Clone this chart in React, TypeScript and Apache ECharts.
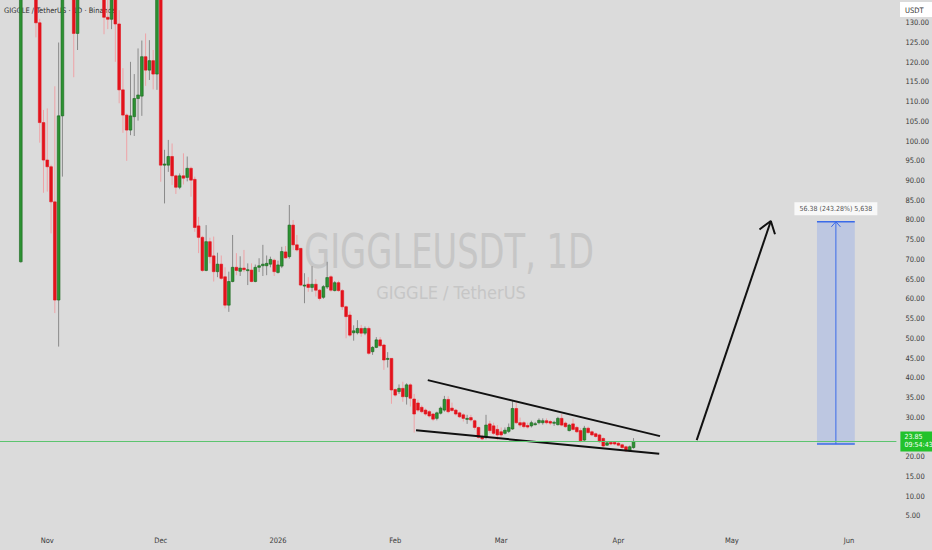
import { useEffect, useRef } from 'react';
import * as echarts from 'echarts';

// daily category axis: 2025-10-20 .. 2026-06-12
const startDay = Date.UTC(2025, 9, 20);
const dayCount = 237;
const categories = Array.from({ length: dayCount }, (_, i) =>
  new Date(startDay + i * 86400000).toISOString().slice(0, 10)
);

const monthTicks: [string, string][] = [
  ['2025-11-01', 'Nov'],
  ['2025-12-01', 'Dec'],
  ['2026-01-01', '2026'],
  ['2026-02-01', 'Feb'],
  ['2026-03-01', 'Mar'],
  ['2026-04-01', 'Apr'],
  ['2026-05-01', 'May'],
  ['2026-06-01', 'Jun'],
];

// first candle sits on day index 5 (2025-10-25); rows are [open, close, low, high]
const firstCandle = 5;
const ohlc: number[][] = [
  [69.4, 150, 69.2, 158], [150, 170, 142, 180], [170, 160, 145, 185], [160, 145, 138, 168], [145, 130, 126.3, 148],
  [130, 104.7, 99.6, 131], [104.7, 95.2, 86.9, 107.9], [95.2, 93.5, 87.2, 108.3], [93.5, 84.6, 76.6, 94], [84.6, 59.7, 56.4, 113.9],
  [59.7, 106.4, 47.9, 125], [106.4, 150, 91, 165], [150, 160, 140, 175], [160, 145, 138, 170], [145, 127.3, 116.2, 150],
  [127.3, 150, 123.1, 160], [150, 165, 140, 172], [165, 175, 155, 185], [175, 160, 150, 180], [160, 170, 148, 178],
  [170, 155, 145, 175], [155, 142, 138, 160], [142, 131.4, 127.1, 146], [131.4, 130.9, 128.4, 138], [130.9, 142, 128.4, 148],
  [142, 129.7, 120.1, 145], [129.7, 113, 109.6, 133.2], [113, 106.6, 102.1, 118.5], [106.6, 102.8, 95, 107], [102.8, 106.4, 101.5, 120.1],
  [106.2, 110.8, 101.3, 117], [110.8, 111.7, 105.2, 123.5], [111.4, 121.4, 106.4, 125.5], [121.4, 118, 114, 127.3], [118, 120.4, 115.5, 125.6],
  [120.4, 117, 113.1, 123.1], [117, 142, 113, 150], [142, 93.9, 89.7, 146], [93.9, 94.2, 84.2, 97.8], [93.9, 96.1, 92.2, 100.3],
  [96.1, 91.2, 88.9, 99.4], [91.2, 88.3, 86.6, 91.5], [88.3, 91.2, 87.8, 91.8], [91.2, 90.6, 89, 96.9], [90.8, 93.1, 89.8, 96.1],
  [93.1, 90.1, 85.9, 93.5], [90.3, 78.1, 77, 91], [78.5, 75.6, 71.6, 80.8], [75.6, 67.2, 66.8, 76], [67.2, 74.5, 67, 78.7],
  [74.5, 70.7, 69, 75.5], [70.9, 66.9, 64.4, 75.8], [66.9, 68.8, 65.5, 71.7], [68.8, 65.2, 64.8, 71], [65.6, 58.4, 57.6, 68],
  [58.4, 64.4, 56.7, 66.9], [64.4, 68, 64.2, 76.2], [68, 67.2, 66, 71.6], [67, 67.8, 65.8, 70.8], [67.8, 67.4, 66.8, 72.4],
  [67.3, 67.4, 63.5, 69], [67.3, 64.4, 64.2, 69], [64.4, 68, 64.2, 68.7], [68, 68.4, 66.8, 70.3], [68.4, 68.8, 65.8, 73.7],
  [68.4, 69, 66, 71], [68.8, 70, 68, 70.7], [69.8, 66.9, 65.8, 70.2], [66.7, 68.6, 66.4, 69.7], [68.3, 72, 67.8, 73.2],
  [71.9, 70.4, 70.2, 73.4], [70.7, 78.7, 70.2, 83.8], [78.7, 73.7, 72.4, 80], [73.7, 72.4, 72, 76.2], [72.8, 63.5, 63.2, 72.9],
  [63.4, 63.5, 58.9, 66.5], [63.7, 62.9, 61.8, 65.5], [62.9, 63.7, 61.8, 68.3], [63.7, 62.2, 60.6, 65], [62.2, 60.1, 59.6, 62.5],
  [60.4, 63.1, 60, 63.5], [63, 65.4, 62.5, 69.4], [65.6, 62.2, 61.8, 66], [62.1, 64.1, 61.9, 64.5], [64.1, 62.1, 61.8, 64.6],
  [62.1, 58, 57.2, 62.5], [58, 55.5, 50, 58.3], [55.9, 50.8, 50.4, 56.8], [51.4, 51.9, 49.4, 53.3], [51.4, 52.5, 51, 54.6],
  [52.5, 51.3, 50.4, 53.4], [51.3, 52.5, 50.8, 53], [52.5, 46.2, 45.8, 53], [46.6, 47.7, 45.8, 48], [47.7, 49.6, 47.5, 50.3],
  [49.6, 48.1, 47.9, 50.3], [48.3, 44.5, 42, 48.6], [44.8, 44.9, 42.6, 46.5], [44.9, 36.9, 33.4, 45], [37, 35.6, 35.2, 37.3],
  [36.5, 37.3, 35.9, 38.3], [37.3, 35.2, 33.9, 39], [35.2, 38.2, 33.2, 38.6], [38.2, 34.8, 32.7, 38.6], [34.6, 30.8, 26.1, 35.9],
  [33.6, 31.8, 31.3, 34.4], [32.5, 31.4, 31, 33], [31.8, 30.8, 30.4, 32.2], [31.4, 30.3, 29.9, 31.8], [30.8, 29.5, 29, 31],
  [29.7, 31.1, 29.2, 31.4], [31, 32.3, 30.7, 32.7], [31.8, 34.5, 31.4, 35.4], [34.5, 31.4, 31, 35.3], [32.3, 31.7, 31.3, 33.7],
  [31.8, 30.8, 30.4, 32.1], [31.1, 30.1, 29.8, 31.4], [30.6, 29.7, 28.9, 31], [29.6, 29.7, 28.3, 30.6], [29.9, 29.3, 28.9, 30.6],
  [29.1, 27.4, 26.8, 29.4], [27.4, 24.9, 24.6, 27.6], [25, 24.5, 24.2, 25.6], [24.9, 28, 24.4, 30.6], [28.3, 26.6, 26, 29.1],
  [27.8, 25.9, 25.5, 28.6], [26.9, 25.5, 24.2, 28], [26.3, 25.5, 25, 27.4], [25.9, 26.7, 25.6, 27.4], [26.4, 27.4, 26, 28.4],
  [27, 32.2, 26.8, 34.1], [32.2, 28.6, 28.3, 33.7], [28.6, 28, 27.4, 29.9], [28.6, 27.6, 27.2, 29], [27.9, 27.5, 27.1, 28.6],
  [27.8, 28.6, 27.4, 29.1], [28.3, 28.35, 27.9, 28.8], [28.6, 29.2, 28.2, 29.7], [28.6, 29.1, 28.1, 29.7], [29.1, 28.6, 28.2, 29.7],
  [28.9, 28.5, 28, 29.3], [28.5, 28.7, 27.8, 29.1], [28.1, 29.7, 27.9, 30.1], [29.7, 28, 27.7, 30.8], [28.5, 27.6, 27.3, 28.9],
  [26.6, 28, 26.4, 28.3], [28.3, 26.9, 26.6, 29.6], [27.4, 26.3, 26, 27.8], [26.6, 24, 23.6, 27.2], [24.2, 27.2, 23.9, 27.8],
  [27.2, 26.1, 25.8, 27.6], [26.3, 25.5, 25.2, 26.6], [25.8, 25.1, 24.8, 26.1], [25.5, 23.8, 23.5, 25.8], [24.6, 22.7, 22.4, 24.9],
  [22.9, 23.5, 22.7, 23.8], [23.6, 23.2, 22.9, 23.9], [23.6, 23.2, 22.9, 23.9], [23.4, 22.9, 22.6, 23.7], [23, 22.3, 22, 23.3],
  [22.5, 21.5, 21.2, 22.8], [21.5, 22.5, 21.3, 22.8], [22.3, 23.85, 22, 24.7],
];

const lastPrice = 23.85;
const countdown = '09:54:43';

// drawings, [day index, price]
const wedgeUpper = [[112.6, 39.4], [174.0, 25.2]];
const wedgeLower = [[109.5, 26.7], [173.8, 20.7]];
const arrowShaft = [[183.7, 24.2], [203.3, 79.75]];
const arrowHead = [[200.3, 77.6], [203.3, 79.75], [204.4, 76.4]];

const projFrom = 23.18;
const projTo = 79.56;
const projLeft = 215.5;
const projRight = 225.5;
const projMid = 220.5;
const projLabel = '56.38 (243.28%) 5,638';

const narrow = '"Liberation Sans Narrow", "DejaVu Sans Condensed", sans-serif';

function renderCandle(_params: any, api: any) {
  const i = api.value(0);
  const o = api.value(1);
  const c = api.value(2);
  const lo = api.value(3);
  const hi = api.value(4);
  const [x, yO] = api.coord([i, o]);
  const yC = api.coord([i, c])[1];
  const yL = api.coord([i, lo])[1];
  const yH = api.coord([i, hi])[1];
  const w = api.size([1, 0])[0] * 0.72;
  const up = c >= o;
  const top = Math.min(yO, yC);
  const h = Math.max(Math.abs(yO - yC), 1);
  return {
    type: 'group',
    children: [
      {
        type: 'line',
        shape: { x1: x, y1: yH, x2: x, y2: yL },
        style: { stroke: up ? '#8a8a8a' : '#efa2a6', lineWidth: 1 },
      },
      {
        type: 'rect',
        shape: { x: x - w / 2, y: top, width: w, height: h },
        style: {
          fill: up ? '#2c9232' : '#e3131c',
          stroke: up ? '#1a651d' : '#e3131c',
          lineWidth: 0.6,
        },
      },
    ],
  };
}

function segment(data: number[][], color: string, width: number) {
  return {
    type: 'line',
    xAxisIndex: 1,
    data,
    symbol: 'none',
    silent: true,
    z: 4,
    lineStyle: { color, width },
  };
}

export default function App() {
  const chartRef = useRef<HTMLDivElement>(null);

  useEffect(() => {
    if (!chartRef.current) return;
    const chart = echarts.init(chartRef.current, undefined, { renderer: 'svg' });

    const tickMap = new Map(monthTicks);
    const candleData = ohlc.map((d, i) => [firstCandle + i, ...d]);

    const option: any = {
      animation: false,
      backgroundColor: '#dbdbdb',
      grid: { left: 0, right: 35, top: 3.08, bottom: 14.5 },
      xAxis: [
        {
          type: 'category',
          data: categories,
          boundaryGap: true,
          axisLine: { show: false },
          axisTick: { show: false },
          splitLine: { show: false },
          axisLabel: {
            interval: (_i: number, v: string) => tickMap.has(v),
            formatter: (v: string) => tickMap.get(v) || '',
            color: '#3a3a3a',
            fontSize: 7.5,
            fontFamily: narrow,
            margin: 1,
          },
        },
        { type: 'value', min: -0.5, max: dayCount - 0.5, show: false },
      ],
      yAxis: {
        type: 'value',
        position: 'right',
        min: 0,
        max: 135,
        interval: 5,
        axisLine: { show: false },
        axisTick: { show: false },
        splitLine: { show: false },
        axisLabel: {
          formatter: (v: number) => (v === 0 || v === 135 ? '' : v.toFixed(2)),
          color: '#3a3a3a',
          fontSize: 7.5,
          fontFamily: narrow,
          margin: 9,
          align: 'left',
        },
      },
      graphic: [
        {
          type: 'text',
          x: 449,
          y: 251,
          scaleY: 1.26,
          z: 0,
          silent: true,
          style: {
            text: 'GIGGLEUSDT, 1D',
            fill: '#c6c6c6',
            fontSize: 37.5,
            fontFamily: narrow,
            textAlign: 'center',
            textVerticalAlign: 'middle',
          },
        },
        {
          type: 'text',
          x: 451,
          y: 292,
          z: 0,
          silent: true,
          style: {
            text: 'GIGGLE / TetherUS',
            fill: '#c6c6c6',
            fontSize: 18,
            fontFamily: narrow,
            textAlign: 'center',
            textVerticalAlign: 'middle',
          },
        },
        {
          type: 'text',
          x: 4,
          y: 10,
          z: 0,
          silent: true,
          style: {
            text: 'GIGGLE / TetherUS · 1D · Binance',
            fill: '#2e2e2e',
            fontSize: 7.5,
            fontFamily: narrow,
            textVerticalAlign: 'middle',
          },
        },
        {
          type: 'rect',
          x: 900,
          y: 2,
          z: 100,
          shape: { width: 32, height: 15 },
          style: { fill: '#ffffff' },
        },
        {
          type: 'text',
          x: 905,
          y: 10,
          z: 101,
          style: {
            text: 'USDT',
            fill: '#333',
            fontSize: 7.5,
            fontFamily: narrow,
            textVerticalAlign: 'middle',
          },
        },
      ],
      series: [
        {
          type: 'custom',
          name: 'GIGGLEUSDT',
          renderItem: renderCandle,
          data: candleData,
          encode: { x: 0, y: [1, 2, 3, 4] },
          clip: false,
          z: 2,
        },
        {
          type: 'line',
          xAxisIndex: 1,
          data: [],
          symbol: 'none',
          silent: true,
          z: 3,
          markLine: {
            silent: true,
            symbol: ['none', 'none'],
            lineStyle: { color: '#5cc46f', width: 1, type: 'solid' },
            label: {
              show: true,
              position: 'end',
              distance: 4,
              formatter: `${lastPrice.toFixed(2)}\n${countdown}`,
              color: '#ffffff',
              backgroundColor: '#22c22b',
              padding: [2, 4],
              fontSize: 7,
              lineHeight: 8,
              fontFamily: narrow,
            },
            data: [{ yAxis: lastPrice }],
          },
        },
        segment(wedgeUpper, '#111111', 2),
        segment(wedgeLower, '#111111', 2),
        segment(arrowShaft, '#111111', 2),
        segment(arrowHead, '#111111', 2),
        {
          type: 'line',
          xAxisIndex: 1,
          data: [],
          symbol: 'none',
          silent: true,
          z: 1,
          markArea: {
            silent: true,
            itemStyle: { color: 'rgba(41, 98, 255, 0.17)' },
            data: [[{ coord: [projLeft, projFrom] }, { coord: [projRight, projTo] }]],
          },
        },
        segment([[projLeft, projTo], [projRight, projTo]], '#3a6ae8', 1.5),
        segment([[projLeft, projFrom], [projRight, projFrom]], '#3a6ae8', 1.5),
        segment([[projMid, projFrom], [projMid, projTo]], '#3a6ae8', 1),
        segment([[projMid - 1.2, projTo - 1.3], [projMid, projTo], [projMid + 1.2, projTo - 1.3]], '#3a6ae8', 1),
        {
          type: 'scatter',
          xAxisIndex: 1,
          data: [[projMid, projTo]],
          symbolSize: 1,
          itemStyle: { color: 'transparent' },
          silent: true,
          z: 6,
          label: {
            show: true,
            position: 'top',
            distance: 6,
            formatter: projLabel,
            color: '#222',
            backgroundColor: '#ffffff',
            padding: [3, 5],
            fontSize: 7,
            fontFamily: narrow,
          },
        },
      ],
    };

    chart.setOption(option);

    return () => {
      chart.dispose();
    };
  }, []);

  return (
    <div
      ref={chartRef}
      style={{ position: 'fixed', left: 0, top: 0, width: 932, height: 550 }}
    />
  );
}
